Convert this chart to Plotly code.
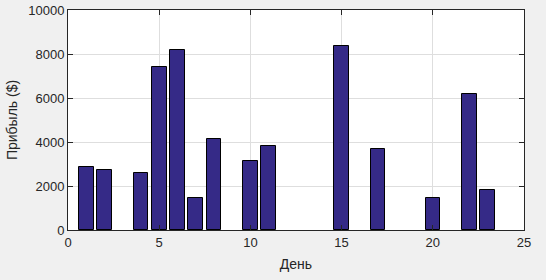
import plotly.graph_objects as go

days = list(range(1, 25))
profit = [2850, 2750, 0, 2580, 7400, 8200, 1450, 4120, 0, 3120, 3800, 0,
          0, 0, 8370, 0, 3660, 0, 0, 1450, 0, 6200, 1800, 0]

x_ticks = [0, 5, 10, 15, 20, 25]
y_ticks = [0, 2000, 4000, 6000, 8000, 10000]
y_tick_labels = ["0", "2000", "4000", "6000", "8000", "10000"]

edge_widths = [1 if v > 0 else 0 for v in profit]

fig = go.Figure(go.Bar(
    x=days, y=profit, width=0.8,
    marker=dict(color="#352A87", line=dict(color="black", width=edge_widths)),
))

font = "Liberation Sans, Arial, Helvetica, sans-serif"
axis_common = dict(
    showline=True, linecolor="#262626", linewidth=1, mirror="ticks",
    ticks="inside", ticklen=5, tickcolor="#262626",
    showgrid=True, gridcolor="#DEDEDE", gridwidth=1, zeroline=False,
    tickfont=dict(family=font, size=13, color="#262626"),
    automargin=False, layer="above traces",
)
fig.update_xaxes(range=[0, 25], tickvals=x_ticks, ticktext=[str(t) for t in x_ticks],
                 title=dict(text="День", font=dict(family=font, size=14, color="#262626"), standoff=10),
                 **axis_common)
fig.update_yaxes(range=[0, 10000], tickvals=y_ticks, ticktext=y_tick_labels,
                 title=dict(text="Прибыль ($)", font=dict(family=font, size=14, color="#262626"), standoff=7),
                 **axis_common)

fig.update_layout(
    width=546, height=280,
    margin=dict(l=68, r=22, t=10, b=50),
    paper_bgcolor="#F0F0F0", plot_bgcolor="white",
    showlegend=False, bargap=0,
)
fig.write_html("out.html", config={"displayModeBar": False},
               post_script="document.body.style.margin='0';document.body.style.background='#F0F0F0';")
